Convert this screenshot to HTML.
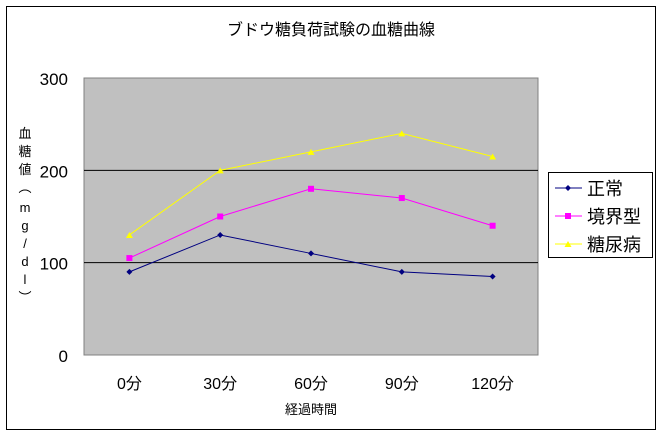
<!DOCTYPE html>
<html><head><meta charset="utf-8"><style>
body{margin:0;background:#fff;}
svg text{font-family:"Liberation Sans","Noto Sans CJK JP",sans-serif;}
</style></head><body>
<svg width="662" height="436" xmlns="http://www.w3.org/2000/svg">
<rect x="6.5" y="6.5" width="649" height="423" fill="#fff" stroke="#000"/>
<text x="331" y="35" font-size="16" text-anchor="middle">ブドウ糖負荷試験の血糖曲線</text>
<rect x="84" y="78" width="454" height="277" fill="#c0c0c0" stroke="#808080"/>
<g id="grid"></g><g id="yticks"></g><g id="xticks"></g><g id="series"></g>
<g font-size="13" text-anchor="middle">
<text x="25" y="138">血</text><text x="25" y="156">糖</text><text x="25" y="174">値</text>
<text x="25" y="192">︵</text><text x="25" y="212">m</text><text x="25" y="230">g</text>
<text x="25" y="248">/</text><text x="25" y="266">d</text><text x="25" y="284">l</text><text x="25" y="302">︶</text>
</g>
<text x="311" y="414" font-size="13" text-anchor="middle">経過時間</text>
<g>
<rect x="548.5" y="172.5" width="104" height="85" fill="#fff" stroke="#000"/>
<g id="legend"></g>
</g>
</svg>
<script>
const categories=["0分","30分","60分","90分","120分"];
const yTicks=[0,100,200,300];
const seriesNames=["正常","境界型","糖尿病"];
const normalVals=[90,130,110,90,85];
const borderVals=[105,150,180,170,140];
const diabetesVals=[130,200,220,240,215];
const allVals=[normalVals,borderVals,diabetesVals];
const colors=["#000080","#ff00ff","#ffff00"];
const NS="http://www.w3.org/2000/svg";
const X0=84,X1=538,Y0=355,Y1=78;
const y=v=>Y0-(v/300)*(Y0-Y1);
const x=i=>X0+(i+0.5)*(X1-X0)/categories.length;
function mk(t,a,p){const e=document.createElementNS(NS,t);for(const k in a)e.setAttribute(k,a[k]);p.appendChild(e);return e;}
const grid=document.getElementById('grid'),yt=document.getElementById('yticks'),xt=document.getElementById('xticks'),sg=document.getElementById('series'),lg=document.getElementById('legend');
yTicks.forEach(v=>{
 if(v>0&&v<300){const l=mk('line',{x1:X0,x2:X1,y1:y(v),y2:y(v),stroke:'#000'},grid);
 
 }
 const t=mk('text',{x:68,y:y(v)+7,'font-size':17,'text-anchor':'end'},yt);t.textContent=v;
 
 
});
categories.forEach((c,i)=>{
 const t=mk('text',{x:x(i),y:389,'font-size':16,'text-anchor':'middle'},xt);t.textContent=c;
 
 
});
function marker(k,cx,cy,p){
 if(k===0)return mk('polygon',{points:`${cx},${cy-3} ${cx+3},${cy} ${cx},${cy+3} ${cx-3},${cy}`,fill:colors[0]},p);
 if(k===1)return mk('rect',{x:cx-3,y:cy-3,width:6,height:6,fill:colors[1]},p);
 return mk('polygon',{points:`${cx},${cy-3} ${cx+3.5},${cy+3} ${cx-3.5},${cy+3}`,fill:colors[2]},p);
}
allVals.forEach((vals,k)=>{
 const g=mk('g',{},sg);
 
 
 mk('polyline',{points:vals.map((v,i)=>x(i)+','+y(v)).join(' '),fill:'none',stroke:colors[k],'stroke-width':1},g);
 vals.forEach((v,i)=>{const m=marker(k,x(i),y(v),g);
  
  });
 const ly=188+k*28;
 const le=mk('g',{},lg);
 
 
 mk('line',{x1:555,x2:582,y1:ly,y2:ly,stroke:colors[k]},le);
 marker(k,568,ly,le);
 const t=mk('text',{x:587,y:ly+7,'font-size':18},le);t.textContent=seriesNames[k];
});
</script>
</body></html>
